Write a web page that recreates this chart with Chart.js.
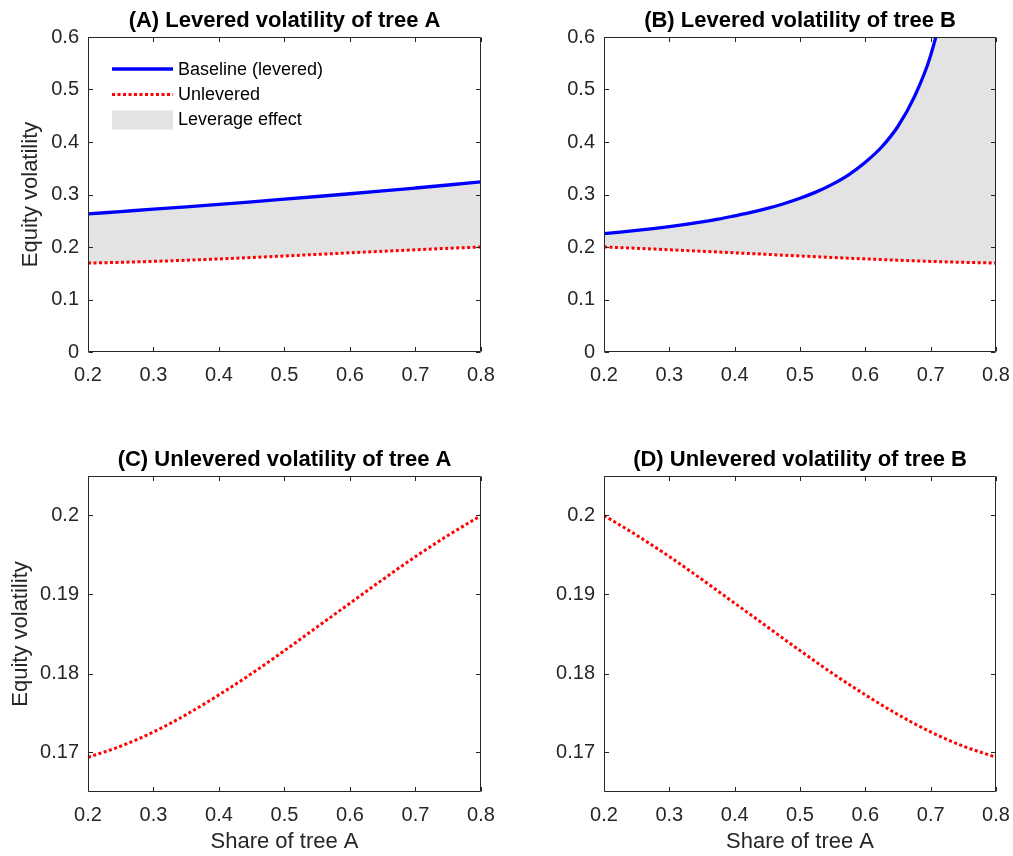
<!DOCTYPE html>
<html>
<head>
<meta charset="utf-8">
<script src="https://cdn.jsdelivr.net/npm/chart.js@4/dist/chart.umd.min.js"></script>
<style>
html,body{margin:0;padding:0;background:#ffffff;}
#wrap{position:relative;width:1013px;height:856px;overflow:hidden;}
.p{position:absolute;}
.p canvas{display:block;}
</style>
</head>
<body>
<div id="wrap">
  <div class="p" style="left:0px;top:0px;width:506px;height:428px"><canvas id="cA"></canvas></div>
  <div class="p" style="left:506px;top:0px;width:507px;height:428px"><canvas id="cB"></canvas></div>
  <div class="p" style="left:0px;top:428px;width:506px;height:428px"><canvas id="cC"></canvas></div>
  <div class="p" style="left:506px;top:428px;width:507px;height:428px"><canvas id="cD"></canvas></div>
</div>
<script>
// ---------------- data ----------------
const shareA = [0.2,0.25,0.3,0.35,0.4,0.45,0.5,0.55,0.6,0.65,0.7,0.75,0.8];
const unleveredA = [0.1694,0.1708,0.1726,0.1748,0.1773,0.1800,0.1829,0.1859,0.1889,0.1919,0.1948,0.1975,0.2000];
const unleveredB = [0.2000,0.1975,0.1948,0.1919,0.1889,0.1859,0.1829,0.1800,0.1773,0.1748,0.1726,0.1708,0.1694];
const leveredA   = [0.263,0.2675,0.272,0.2766,0.2813,0.2861,0.2911,0.2962,0.3014,0.3068,0.3124,0.3181,0.3240];
const shareLevB  = [0.2,0.225,0.25,0.275,0.3,0.325,0.35,0.375,0.4,0.425,0.45,0.475,0.5,0.525,0.55,0.575,
                    0.6,0.625,0.65,0.675,0.7,0.72,0.74,0.76,0.78,0.8];
const leveredB   = [0.2255,0.2284,0.2316,0.2351,0.2389,0.2432,0.2479,0.2531,0.2593,0.2658,0.2735,0.2824,
                    0.2928,0.3050,0.3198,0.3380,0.3615,0.3905,0.4300,0.4860,0.5650,0.668,0.842,1.19,2.3,4.0];

const xTickValues = [0.2,0.3,0.4,0.5,0.6,0.7,0.8];
const xTickLabels = ['0.2','0.3','0.4','0.5','0.6','0.7','0.8'];
const yTickValuesLev = [0,0.1,0.2,0.3,0.4,0.5,0.6];
const yTickLabelsLev = ['0','0.1','0.2','0.3','0.4','0.5','0.6'];
const yTickValuesUnlev = [0.17,0.18,0.19,0.2];
const yTickLabelsUnlev = ['0.17','0.18','0.19','0.2'];

const panelTitles = ['(A) Levered volatility of tree A','(B) Levered volatility of tree B',
                     '(C) Unlevered volatility of tree A','(D) Unlevered volatility of tree B'];
const yAxisTitle = 'Equity volatility';
const xAxisTitle = 'Share of tree A';
const seriesNames = ['Baseline (levered)','Unlevered','Leverage effect'];

// ---------------- styles ----------------
const FONT = "'Liberation Sans', Arial, Helvetica, sans-serif";
const AXIS = '#262626';
const BLUE = '#0000ff';
const RED = '#ff0000';
const GREY = '#e3e3e3';

function pts(xs, ys){ return xs.map((x,i)=>({x:x, y:ys[i]})); }

function leveredSet(xs, ys){
  return {label: seriesNames[0], data: pts(xs,ys), borderColor: BLUE, borderWidth: 3.3,
          pointRadius: 0, fill: false, cubicInterpolationMode: 'monotone', order: 0};
}
function unleveredSet(xs, ys){
  return {label: seriesNames[1], data: pts(xs,ys), borderColor: RED, borderWidth: 3,
          borderDash: [3,2.5], borderCapStyle: 'butt', pointRadius: 0, fill: false,
          cubicInterpolationMode: 'monotone', order: 1};
}
function effectSet(xs, ys){
  return {label: seriesNames[2], data: pts(xs,ys), borderColor: 'rgba(0,0,0,0)', borderWidth: 0,
          backgroundColor: GREY, pointRadius: 0, fill: 1, cubicInterpolationMode: 'monotone',
          order: 2, isPatch: true};
}

// plugin: panel title, axes box and inward ticks
const framePlugin = {
  id: 'frame',
  afterDraw(chart, args, opts){
    const ctx = chart.ctx, a = chart.chartArea;
    const xs = chart.scales.x, ys = chart.scales.y;
    ctx.save();
    ctx.strokeStyle = AXIS;
    ctx.lineWidth = 1;
    const L = Math.round(a.left)+0.5, R = Math.round(a.right)-0.5;
    const T = Math.round(a.top)+0.5, B = Math.round(a.bottom)-0.5;
    ctx.beginPath();
    ctx.rect(L, T, R-L, B-T);
    ctx.stroke();
    const tl = 4.5;
    ctx.beginPath();
    xs.ticks.forEach(t=>{
      const px = Math.round(xs.getPixelForValue(t.value))+0.5;
      ctx.moveTo(px, B); ctx.lineTo(px, B-tl);
      ctx.moveTo(px, T); ctx.lineTo(px, T+tl);
    });
    ys.ticks.forEach(t=>{
      const py = Math.round(ys.getPixelForValue(t.value))+0.5;
      ctx.moveTo(L, py); ctx.lineTo(L+tl, py);
      ctx.moveTo(R, py); ctx.lineTo(R-tl, py);
    });
    ctx.stroke();
    // title
    ctx.fillStyle = '#000000';
    ctx.font = 'bold 22px ' + FONT;
    ctx.textAlign = 'center';
    ctx.textBaseline = 'alphabetic';
    ctx.fillText(opts.text, (a.left+a.right)/2, a.top - 10);
    ctx.restore();
  }
};

// plugin: legend inside the axes (panel A)
const innerLegend = {
  id: 'innerLegend',
  afterDraw(chart, args, opts){
    if (!opts.show) return;
    const ctx = chart.ctx;
    const order = [0,1,2];
    const x0 = 112, x1 = 173, tx = 178;
    const rows = [70, 95.5, 120];
    ctx.save();
    order.forEach((di, r)=>{
      const ds = chart.data.datasets.find(d=>d.label===seriesNames[di]);
      const y = rows[r];
      if (ds.isPatch){
        ctx.fillStyle = ds.backgroundColor;
        ctx.fillRect(x0, y-9.5, x1-x0, 19);
      } else {
        ctx.strokeStyle = ds.borderColor;
        ctx.lineWidth = ds.borderWidth;
        ctx.lineCap = 'butt';
        ctx.setLineDash(ds.borderDash || []);
        ctx.beginPath(); ctx.moveTo(x0, y-1); ctx.lineTo(x1, y-1); ctx.stroke();
        ctx.setLineDash([]);
      }
      ctx.fillStyle = '#000000';
      ctx.font = '18px ' + FONT;
      ctx.textAlign = 'left';
      ctx.textBaseline = 'middle';
      ctx.fillText(ds.label, tx, y);
    });
    ctx.restore();
  }
};

function makePanel(id, cfg){
  const W = cfg.W, H = cfg.H;
  return new Chart(document.getElementById(id), {
    type: 'line',
    data: {datasets: cfg.datasets},
    options: {
      responsive: true, maintainAspectRatio: false, animation: false,
      devicePixelRatio: 1,
      layout: {padding: {left: 0, top: cfg.top, right: W - cfg.right, bottom: 0}},
      plugins: {
        legend: {display: false}, title: {display: false}, tooltip: {enabled: false},
        filler: {drawTime: 'beforeDatasetsDraw'},
        frame: {text: cfg.title},
        innerLegend: {show: !!cfg.legend}
      },
      scales: {
        x: {
          type: 'linear', min: 0.2, max: 0.8,
          afterBuildTicks: s => { s.ticks = xTickValues.map(v=>({value: v})); },
          afterFit: s => { s.height = H - cfg.bottom; s.paddingLeft = 0; s.paddingRight = 0; },
          ticks: {callback: (v,i)=>xTickLabels[i], color: AXIS, font: {family: FONT, size: 20},
                  padding: 11, maxRotation: 0, autoSkip: false},
          grid: {display: false, drawTicks: false},
          border: {display: false},
          title: {display: !!cfg.xTitle, text: cfg.xTitle || '', color: AXIS,
                  font: {family: FONT, size: 22}, padding: {top: 0, bottom: 0.5}}
        },
        y: {
          type: 'linear', min: cfg.yMin, max: cfg.yMax,
          afterBuildTicks: s => { s.ticks = cfg.yTicks.map(v=>({value: v})); },
          afterFit: s => { s.width = cfg.left; s.paddingTop = 0; s.paddingBottom = 0; },
          ticks: {callback: (v,i)=>cfg.yLabels[i], color: AXIS, font: {family: FONT, size: 20},
                  padding: 9, autoSkip: false},
          grid: {display: false, drawTicks: false},
          border: {display: false},
          title: {display: !!cfg.yTitle, text: cfg.yTitle || '', color: AXIS,
                  font: {family: FONT, size: 22}, padding: {top: cfg.yTitlePad || 0, bottom: 0}}
        }
      }
    },
    plugins: [framePlugin, innerLegend]
  });
}

makePanel('cA', {W:506, H:428, left:88, right:481, top:37, bottom:352,
  yMin:0, yMax:0.6, yTicks: yTickValuesLev, yLabels: yTickLabelsLev,
  title: panelTitles[0], yTitle: yAxisTitle, yTitlePad: 17.8, legend: true,
  datasets: [leveredSet(shareA, leveredA), unleveredSet(shareA, unleveredA), effectSet(shareA, leveredA)]});

makePanel('cB', {W:507, H:428, left:98, right:490, top:37, bottom:352,
  yMin:0, yMax:0.6, yTicks: yTickValuesLev, yLabels: yTickLabelsLev,
  title: panelTitles[1],
  datasets: [leveredSet(shareLevB, leveredB), unleveredSet(shareA, unleveredB), effectSet(shareLevB, leveredB)]});

makePanel('cC', {W:506, H:428, left:88, right:481, top:48, bottom:364,
  yMin:0.165, yMax:0.205, yTicks: yTickValuesUnlev, yLabels: yTickLabelsUnlev,
  title: panelTitles[2], yTitle: yAxisTitle, yTitlePad: 8.2, xTitle: xAxisTitle,
  datasets: [unleveredSet(shareA, unleveredA)]});

makePanel('cD', {W:507, H:428, left:98, right:490, top:48, bottom:364,
  yMin:0.165, yMax:0.205, yTicks: yTickValuesUnlev, yLabels: yTickLabelsUnlev,
  title: panelTitles[3], xTitle: xAxisTitle,
  datasets: [unleveredSet(shareA, unleveredB)]});
</script>
</body>
</html>
